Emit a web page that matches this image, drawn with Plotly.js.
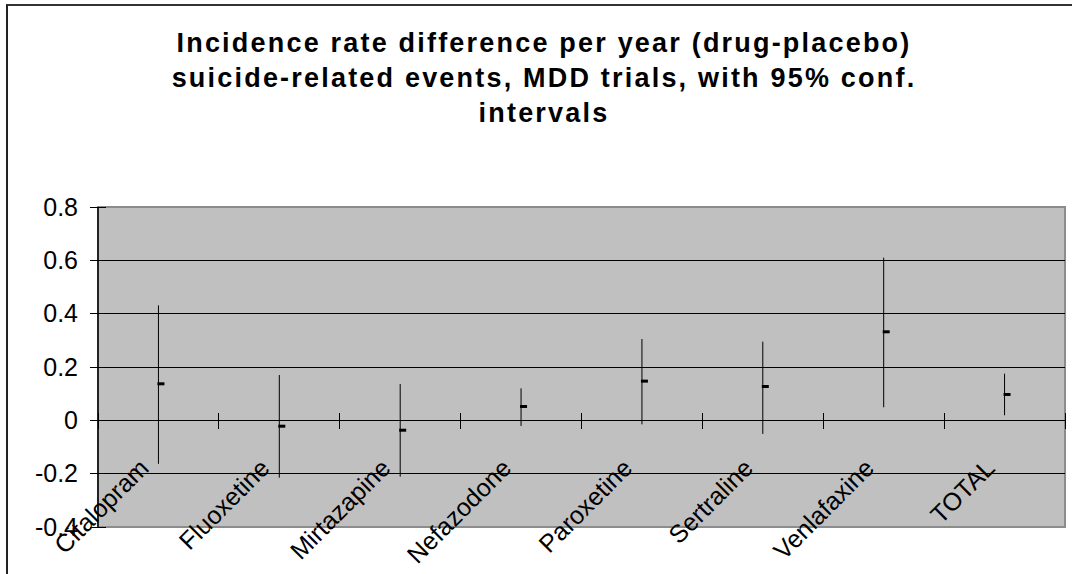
<!DOCTYPE html>
<html>
<head>
<meta charset="utf-8">
<script src="https://cdn.plot.ly/plotly-3.0.1.min.js"></script>
<style>
  html, body { margin: 0; padding: 0; background: #fff; }
  #chart { position: absolute; left: 0; top: 0; width: 1072px; height: 574px; }
  #frame { position: absolute; left: 6px; top: 4px; width: 1100px; height: 620px;
           border-left: 2px solid #222; border-top: 2px solid #333; pointer-events: none; }
  #chart .gtitle { letter-spacing: 2.2px; }
</style>
</head>
<body>
<div id="chart"></div>
<div id="frame"></div>
<script>
// ---- data ----
const categories = ["Citalopram", "Fluoxetine", "Mirtazapine", "Nefazodone",
                    "Paroxetine", "Sertraline", "Venlafaxine", "TOTAL"];
const estimate = [0.137, -0.022, -0.037, 0.052, 0.147, 0.127, 0.332, 0.097];
const lower    = [-0.163, -0.215, -0.211, -0.021, -0.015, -0.051, 0.049, 0.019];
const upper    = [0.431, 0.170, 0.136, 0.120, 0.305, 0.295, 0.610, 0.175];
const yTickVals = [-0.4, -0.2, 0, 0.2, 0.4, 0.6, 0.8];
const yTickText = ["-0.4", "-0.2", "0", "0.2", "0.4", "0.6", "0.8"];
const titleText = "Incidence rate difference per year (drug-placebo)<br>suicide-related events, MDD trials, with 95% conf.<br>intervals";

// ---- layout constants ----
const W = 1072, H = 574;
const M = { l: 98, r: 7, t: 207, b: 47 };
const plotW = W - M.l - M.r, plotH = H - M.t - M.b;
const yRange = [-0.4, 0.8];
const crossLen = 8; // ticks cross their axis by this many px on each side
const zeroFrac = (0 - yRange[0]) / (yRange[1] - yRange[0]);
const markerShift = 2.5 / (plotW / categories.length); // dash sits just right of the bar

const errPlus = upper.map((u, i) => u - estimate[i]);
const errMinus = estimate.map((e, i) => e - lower[i]);

const font = "Arial, 'Liberation Sans', sans-serif";

const traces = [
  {
    type: "scatter", mode: "markers",
    x: categories, y: estimate, xaxis: "x", yaxis: "y",
    marker: { size: 1, color: "rgba(0,0,0,0)" },
    error_y: { type: "data", symmetric: false, array: errPlus, arrayminus: errMinus,
               color: "#000", thickness: 1, width: 0 },
    hoverinfo: "skip", showlegend: false
  },
  {
    type: "scatter", mode: "markers",
    x: categories, y: estimate, xaxis: "x2", yaxis: "y",
    marker: { symbol: "line-ew", size: 5, color: "#000", line: { color: "#000", width: 3 } },
    showlegend: false
  }
];

const layout = {
  width: W, height: H,
  margin: M,
  paper_bgcolor: "#ffffff",
  plot_bgcolor: "#c0c0c0",
  font: { family: font, color: "#000", size: 25 },
  showlegend: false,
  title: {
    text: titleText,
    font: { family: font, size: 27, weight: "bold", color: "#000" },
    x: 544 / W, xref: "container", xanchor: "center",
    y: 1 - 52 / H, yref: "container", yanchor: "top"
  },
  xaxis: {
    type: "category",
    categoryorder: "array", categoryarray: categories,
    range: [-0.5, categories.length - 0.5],
    anchor: "free",
    position: zeroFrac + crossLen / plotH,
    showline: false, showgrid: false, zeroline: false,
    tickson: "boundaries",
    ticks: "outside", ticklen: 2 * crossLen, tickwidth: 1, tickcolor: "#000",
    tickangle: -45,
    tickfont: { family: font, size: 25, color: "#000" },
    ticklabelstandoff: 35,
    ticklabelshift: -17
  },
  xaxis2: {
    type: "category",
    categoryorder: "array", categoryarray: categories,
    overlaying: "x", anchor: "y",
    range: [-0.5 - markerShift, categories.length - 0.5 - markerShift],
    visible: false
  },
  yaxis: {
    range: yRange,
    anchor: "free",
    position: crossLen / plotW,
    tickmode: "array", tickvals: yTickVals, ticktext: yTickText,
    ticks: "outside", ticklen: 2 * crossLen, tickwidth: 1, tickcolor: "#000",
    showline: false,
    showgrid: true, gridcolor: "#000", gridwidth: 1,
    zeroline: true, zerolinecolor: "#000", zerolinewidth: 1,
    tickfont: { family: font, size: 25, color: "#000" },
    ticklabelstandoff: 7
  },
  shapes: [
    { type: "rect", xref: "paper", yref: "paper", x0: 0, x1: 1, y0: 0, y1: 1,
      line: { color: "#8c8c8c", width: 2 }, fillcolor: "rgba(0,0,0,0)", layer: "below" },
    { type: "line", xref: "paper", yref: "paper", x0: 0, x1: 0, y0: 0, y1: 1,
      line: { color: "#000", width: 1.5 }, layer: "above" }
  ]
};

Plotly.newPlot("chart", traces, layout, { staticPlot: true, displayModeBar: false });
</script>
</body>
</html>
